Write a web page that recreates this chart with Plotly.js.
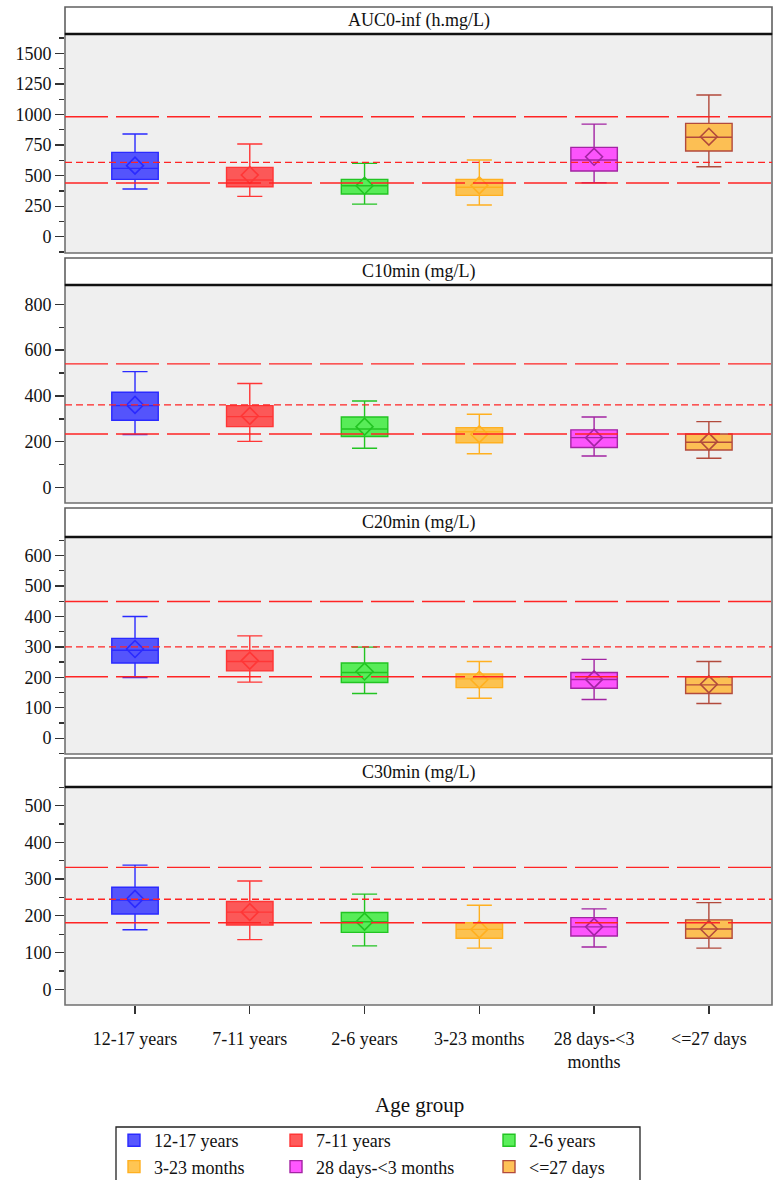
<!DOCTYPE html>
<html>
<head>
<meta charset="utf-8">
<script src="https://cdn.plot.ly/plotly-3.0.1.min.js"></script>
<style>html,body{margin:0;padding:0;background:#fff;}#chart{width:773px;height:1180px;}</style>
</head>
<body>
<div id="chart"></div>
<script>
// ---------- data ----------
const categories = ["12-17 years", "7-11 years", "2-6 years", "3-23 months", "28 days-<3 months", "<=27 days"];
const tickLabels = ["12-17 years", "7-11 years", "2-6 years", "3-23 months", "28 days-<3<br>months", "<=27 days"];
const panelTitles = ["AUC0-inf (h.mg/L)", "C10min (mg/L)", "C20min (mg/L)", "C30min (mg/L)"];
const xAxisTitle = "Age group";

// AUC0-inf
const aucLow    = [390, 330, 267, 259, 441, 572];
const aucQ1     = [469, 409, 349, 338, 537, 701];
const aucMedian = [559, 464, 417, 405, 627, 813];
const aucQ3     = [690, 567, 469, 469, 731, 927];
const aucHigh   = [840, 758, 600, 627, 921, 1159];
const aucMean   = [581, 505, 417, 420, 654, 818];
// C10min
const c10Low    = [232, 202, 172, 148, 138, 128];
const c10Q1     = [294, 266, 223, 196, 175, 164];
const c10Median = [358, 310, 256, 244, 218, 198];
const c10Q3     = [416, 358, 308, 262, 252, 234];
const c10High   = [506, 454, 378, 320, 308, 288];
const c10Mean   = [361, 313, 266, 233, 218, 201];
// C20min
const c20Low    = [199, 184, 147, 131, 127, 114];
const c20Q1     = [247, 221, 183, 166, 164, 147];
const c20Median = [289, 252, 216, 195, 193, 175];
const c20Q3     = [328, 288, 247, 211, 216, 202];
const c20High   = [400, 336, 299, 252, 259, 252];
const c20Mean   = [293, 255, 219, 192, 193, 177];
// C30min
const c30Low    = [162, 135, 118, 112, 115, 112];
const c30Q1     = [205, 175, 155, 139, 145, 139];
const c30Median = [243, 210, 184, 163, 170, 164];
const c30Q3     = [278, 239, 209, 181, 195, 189];
const c30High   = [338, 295, 259, 229, 219, 236];
const c30Mean   = [246, 210, 184, 163, 170, 164];

// reference lines per panel
const refHigh = [981, 540, 449, 332];
const refMid  = [608, 361, 300, 245];
const refLow  = [439, 234, 202, 181];

// axis settings per panel
const yRanges = [[-133, 1658], [-67, 884], [-52, 661], [-43, 551]];
const yDticks = [250, 200, 100, 100];

// ---------- styles ----------
const fillColors = ["rgba(40,40,255,0.78)", "rgba(255,45,45,0.78)", "rgba(45,235,45,0.78)",
                    "rgba(255,182,40,0.8)", "rgba(255,40,255,0.78)", "rgba(255,180,50,0.82)"];
const lineColors = ["#2a2aff", "#ff3636", "#22c422", "#ffb020", "#a324a3", "#b24a3c"];
const legendIds = ["legend", "legend2", "legend3", "legend", "legend2", "legend3"];

const panels = [
  {low: aucLow, q1: aucQ1, med: aucMedian, q3: aucQ3, high: aucHigh, mean: aucMean},
  {low: c10Low, q1: c10Q1, med: c10Median, q3: c10Q3, high: c10High, mean: c10Mean},
  {low: c20Low, q1: c20Q1, med: c20Median, q3: c20Q3, high: c20High, mean: c20Mean},
  {low: c30Low, q1: c30Q1, med: c30Median, q3: c30Q3, high: c30High, mean: c30Mean}
];

const H = 1180;
const plotTop = [34, 285, 537, 787];
const plotBottom = [253, 503, 754, 1005];
const stripTop = [7, 258, 508, 758];
const py = px => 1 - px / H;
const mL = 65, mR = 1, W = 773;
const pxX = px => (px - mL) / (W - mL - mR);

const FONT = "'Liberation Serif', 'Times New Roman', serif";

const traces = [];
panels.forEach((p, pi) => {
  const yref = pi === 0 ? "y" : "y" + (pi + 1);
  categories.forEach((c, gi) => {
    traces.push({
      type: "box",
      name: categories[gi],
      x: [c],
      q1: [p.q1[gi]], median: [p.med[gi]], q3: [p.q3[gi]],
      lowerfence: [p.low[gi]], upperfence: [p.high[gi]],
      xaxis: "x", yaxis: yref,
      fillcolor: fillColors[gi],
      line: {color: lineColors[gi], width: 1.4},
      width: 0.405,
      whiskerwidth: 0.54,
      boxpoints: false,
      legendgroup: categories[gi],
      legend: legendIds[gi],
      showlegend: pi === 0,
      hoverinfo: "y"
    });
  });
  traces.push({
    type: "scatter",
    mode: "markers",
    x: categories,
    y: p.mean,
    xaxis: "x", yaxis: yref,
    marker: {symbol: "diamond-open", size: 13, color: lineColors, line: {width: 1.6}},
    showlegend: false,
    hoverinfo: "y"
  });
});

const layout = {
  width: 773, height: 1180,
  margin: {l: mL, r: mR, t: 0, b: 0, autoexpand: false},
  paper_bgcolor: "#ffffff",
  plot_bgcolor: "#efefef",
  font: {family: FONT, color: "#111"},
  boxmode: "overlay",
  xaxis: {
    type: "category",
    categoryorder: "array",
    categoryarray: categories,
    tickvals: categories,
    ticktext: tickLabels,
    range: [-0.61, 5.55],
    anchor: "y4",
    domain: [0, 1],
    automargin: false,
    ticks: "outside", ticklen: 8, tickwidth: 1.3, tickcolor: "#333",
    ticklabelstandoff: 9,
    tickfont: {family: FONT, size: 18, color: "#111"},
    showgrid: false, zeroline: false, showline: false
  },
  shapes: [],
  annotations: [],
  showlegend: true
};

// x axis title
layout.annotations.push({xref: "paper", yref: "paper", x: pxX(419), y: py(1105),
  text: xAxisTitle, showarrow: false, xanchor: "center", yanchor: "middle",
  font: {family: FONT, size: 21, color: "#111"}});

panels.forEach((p, pi) => {
  const key = pi === 0 ? "yaxis" : "yaxis" + (pi + 1);
  const yref = pi === 0 ? "y" : "y" + (pi + 1);
  layout[key] = {
    domain: [py(plotBottom[pi]), py(plotTop[pi])],
    anchor: "x",
    automargin: false,
    range: yRanges[pi],
    dtick: yDticks[pi],
    tick0: 0,
    ticks: "outside", ticklen: 9, tickwidth: 1.3, tickcolor: "#333",
    minor: {dtick: yDticks[pi] / 2, ticks: "outside", ticklen: 5, tickwidth: 1.3, tickcolor: "#333", showgrid: false},
    tickfont: {family: FONT, size: 18, color: "#111"},
    showgrid: false, zeroline: false, showline: false
  };
  // plot frame
  layout.shapes.push({type: "rect", xref: "paper", yref: "paper",
    x0: 0, x1: 1, y0: py(plotBottom[pi]), y1: py(plotTop[pi]),
    line: {color: "#707070", width: 1.6}, fillcolor: "rgba(0,0,0,0)", layer: "above"});
  // strip header
  layout.shapes.push({type: "rect", xref: "paper", yref: "paper",
    x0: 0, x1: 1, y0: py(plotTop[pi]), y1: py(stripTop[pi]),
    line: {color: "#606060", width: 1.6}, fillcolor: "#ffffff", layer: "above"});
  layout.shapes.push({type: "line", xref: "paper", yref: "paper",
    x0: 0, x1: 1, y0: py(plotTop[pi]), y1: py(plotTop[pi]),
    line: {color: "#111111", width: 2.4}, layer: "above"});
  layout.annotations.push({xref: "paper", yref: "paper", x: 0.5, y: py((plotTop[pi] + stripTop[pi]) / 2),
    text: panelTitles[pi], showarrow: false, xanchor: "center", yanchor: "middle",
    font: {family: FONT, size: 18, color: "#111"}});
  // reference lines
  const refs = [[refHigh[pi], "43px,8px"], [refMid[pi], "7px,4px"], [refLow[pi], "43px,8px"]];
  refs.forEach(r => {
    layout.shapes.push({type: "line", xref: "x domain", yref: yref, x0: 0, x1: 1, y0: r[0], y1: r[0],
      line: {color: "#ff2424", width: 1.4, dash: r[1]}, layer: "above"});
  });
});

// legend frame
layout.shapes.push({type: "rect", xref: "paper", yref: "paper",
  x0: pxX(116), x1: pxX(640), y0: py(1186), y1: py(1127),
  line: {color: "#222", width: 1.3}, fillcolor: "rgba(0,0,0,0)"});

const legendBase = {
  orientation: "v", yanchor: "top", xanchor: "left", y: py(1122),
  bgcolor: "rgba(0,0,0,0)", borderwidth: 0,
  font: {family: FONT, size: 18, color: "#111"},
  tracegroupgap: 0, itemclick: false, itemdoubleclick: false
};
layout.legend  = Object.assign({}, legendBase, {x: pxX(114)});
layout.legend2 = Object.assign({}, legendBase, {x: pxX(276)});
layout.legend3 = Object.assign({}, legendBase, {x: pxX(489)});

Plotly.newPlot("chart", traces, layout, {displayModeBar: false, staticPlot: true});
</script>
</body>
</html>
